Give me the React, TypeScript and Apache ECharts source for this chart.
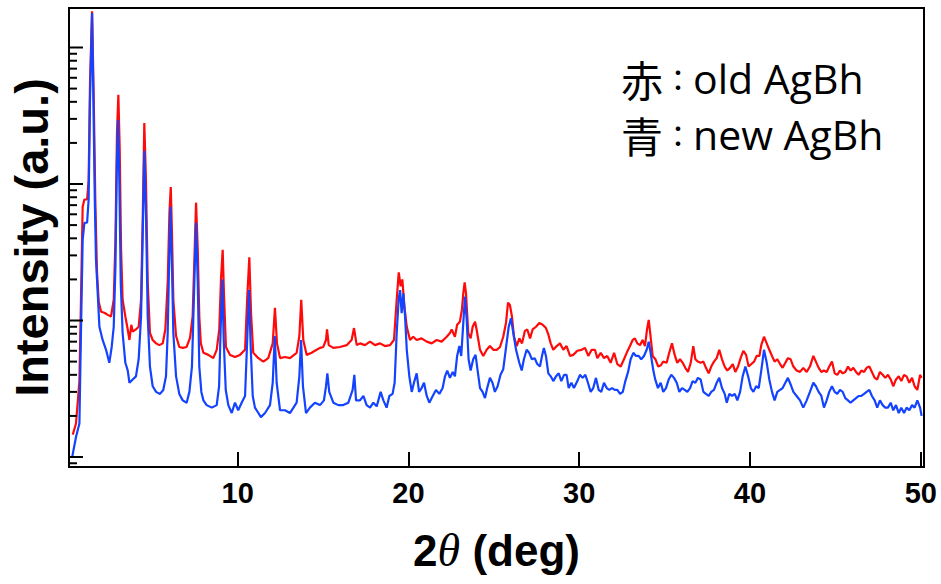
import { useEffect, useRef } from "react";
import * as echarts from "echarts";

// 2θ (deg), intensity (counts) for the old silver behenate standard
const oldAgBh: [number, number][] = [
  [0.34, 14.6], [0.53, 17.6], [0.73, 36], [0.82, 140], [0.92, 680], [1.02, 770], [1.18, 770], [1.27, 1070],
  [1.35, 5500], [1.47, 18400], [1.57, 4150], [1.66, 770], [1.76, 225], [1.86, 137], [2.0, 116], [2.19, 114],
  [2.39, 110], [2.58, 107], [2.74, 142], [2.84, 390], [2.93, 2370], [3.01, 4500], [3.09, 1800], [3.17, 330],
  [3.26, 142], [3.42, 107], [3.56, 86], [3.66, 72], [3.77, 93], [3.85, 83], [4.04, 86], [4.2, 90], [4.34, 142],
  [4.44, 580], [4.53, 2800], [4.63, 1020], [4.73, 190], [4.86, 81], [5.02, 72], [5.22, 68], [5.41, 66],
  [5.61, 68], [5.76, 86], [5.9, 190], [6.0, 610], [6.08, 950], [6.15, 440], [6.23, 142], [6.39, 77], [6.58, 64],
  [6.78, 63], [7.01, 64], [7.21, 75], [7.36, 107], [7.48, 330], [7.56, 730], [7.66, 330], [7.75, 107],
  [7.84, 68], [7.99, 58], [8.28, 56], [8.57, 53], [8.77, 61], [8.92, 86], [9.02, 200], [9.12, 330], [9.2, 150],
  [9.31, 64], [9.55, 56], [9.84, 54], [10.13, 56], [10.43, 61], [10.56, 150], [10.68, 290], [10.78, 113],
  [10.91, 58], [11.21, 53], [11.5, 50], [11.79, 53], [12.05, 68], [12.18, 124], [12.3, 68], [12.48, 53],
  [12.77, 54], [13.06, 53], [13.45, 58], [13.61, 77], [13.72, 142], [13.84, 72], [14.04, 56], [14.33, 58],
  [14.62, 61], [14.82, 63], [15.01, 64], [15.17, 72], [15.23, 86], [15.33, 66], [15.6, 63], [15.99, 64],
  [16.38, 66], [16.67, 72], [16.81, 88], [16.97, 66], [17.16, 68], [17.45, 66], [17.75, 70], [18.04, 66],
  [18.33, 68], [18.62, 65], [18.92, 66], [19.15, 72], [19.31, 142], [19.43, 225], [19.54, 178], [19.64, 200],
  [19.76, 127], [19.9, 90], [20.09, 72], [20.28, 76], [20.48, 72], [20.77, 74], [21.07, 70], [21.36, 68],
  [21.65, 72], [21.94, 70], [22.24, 76], [22.43, 81], [22.53, 86], [22.72, 76], [22.85, 93], [23.01, 98],
  [23.13, 120], [23.21, 158], [23.29, 190], [23.37, 158], [23.5, 81], [23.64, 74], [23.76, 90], [23.9, 98],
  [23.99, 86], [24.19, 61], [24.38, 55], [24.58, 61], [24.77, 65], [24.97, 61], [25.17, 61], [25.36, 64],
  [25.55, 76], [25.71, 96], [25.83, 135], [25.94, 130], [26.06, 107], [26.18, 76], [26.34, 65], [26.49, 74],
  [26.65, 68], [26.82, 84], [26.96, 86], [27.12, 74], [27.27, 86], [27.47, 90], [27.66, 96], [27.86, 93],
  [28.05, 88], [28.19, 79], [28.33, 68], [28.48, 61], [28.68, 65], [28.87, 68], [29.07, 61], [29.26, 65],
  [29.46, 55], [29.65, 56], [29.89, 60], [30.14, 61], [30.34, 63], [30.53, 55], [30.73, 61], [30.92, 61],
  [31.06, 53], [31.26, 58], [31.45, 53], [31.64, 55], [31.84, 49], [32.04, 58], [32.23, 48], [32.43, 46],
  [32.62, 52], [32.78, 58], [32.97, 65], [33.13, 72], [33.26, 74], [33.4, 68], [33.56, 66], [33.71, 72],
  [33.85, 65], [33.97, 86], [34.07, 101], [34.18, 76], [34.3, 55], [34.46, 52], [34.63, 46], [34.78, 47],
  [34.92, 50], [35.12, 49], [35.27, 58], [35.43, 68], [35.59, 56], [35.74, 49], [35.9, 52], [36.06, 49],
  [36.21, 45], [36.37, 42], [36.53, 49], [36.68, 65], [36.8, 52], [36.95, 50], [37.11, 49], [37.27, 50],
  [37.42, 45], [37.58, 41], [37.73, 46], [37.89, 50], [38.05, 53], [38.2, 61], [38.36, 52], [38.52, 46],
  [38.67, 43], [38.83, 45], [38.99, 48], [39.14, 42], [39.3, 46], [39.45, 53], [39.61, 60], [39.77, 56],
  [39.92, 46], [40.08, 48], [40.24, 50], [40.39, 55], [40.55, 55], [40.66, 66], [40.82, 76], [40.98, 68],
  [41.13, 61], [41.29, 55], [41.44, 50], [41.6, 52], [41.76, 48], [41.91, 45], [42.07, 49], [42.22, 53],
  [42.38, 52], [42.54, 46], [42.73, 43], [42.93, 42], [43.12, 45], [43.32, 42], [43.51, 46], [43.71, 55],
  [43.86, 50], [44.02, 45], [44.18, 42], [44.33, 43], [44.49, 42], [44.64, 46], [44.8, 50], [44.96, 41],
  [45.11, 40], [45.27, 43], [45.43, 41], [45.58, 42], [45.74, 46], [45.89, 43], [46.05, 45], [46.21, 42],
  [46.36, 40], [46.52, 43], [46.68, 42], [46.83, 45], [46.99, 46], [47.14, 42], [47.3, 38], [47.45, 37],
  [47.61, 42], [47.77, 40], [47.92, 38], [48.08, 40], [48.24, 37], [48.39, 33], [48.55, 37], [48.71, 39],
  [48.86, 36], [49.02, 40], [49.17, 39], [49.33, 35], [49.49, 38], [49.64, 33], [49.8, 31], [49.96, 40],
  [50.05, 38],
];

// 2θ (deg), intensity (counts) for the new silver behenate standard
const newAgBh: [number, number][] = [
  [0.3, 9.9], [0.53, 14], [0.73, 17.6], [0.82, 81], [0.92, 390], [1.02, 520], [1.18, 520], [1.27, 770],
  [1.35, 4150], [1.47, 17900], [1.55, 4150], [1.63, 770], [1.7, 280], [1.8, 160], [1.9, 90], [2.09, 72],
  [2.29, 61], [2.48, 49], [2.62, 64], [2.74, 90], [2.84, 250], [2.92, 1350], [2.99, 2950], [3.07, 1020],
  [3.15, 190], [3.26, 81], [3.42, 49], [3.56, 43], [3.66, 35], [3.85, 37], [4.04, 39], [4.2, 52], [4.34, 107],
  [4.44, 440], [4.53, 1750], [4.63, 580], [4.73, 107], [4.86, 46], [5.02, 33], [5.22, 30], [5.45, 29],
  [5.64, 31], [5.8, 39], [5.9, 81], [6.0, 330], [6.06, 680], [6.15, 250], [6.23, 81], [6.39, 39], [6.58, 29],
  [6.78, 26], [7.01, 25], [7.17, 30], [7.32, 46], [7.46, 190], [7.56, 520], [7.66, 190], [7.75, 46],
  [7.87, 30], [7.99, 26], [8.18, 24], [8.48, 23], [8.77, 24], [8.91, 33], [9.0, 86], [9.1, 200], [9.18, 72],
  [9.3, 31], [9.45, 24], [9.65, 21], [9.84, 25], [10.03, 22], [10.23, 25], [10.43, 28], [10.54, 64],
  [10.66, 167], [10.76, 64], [10.88, 28], [11.01, 23], [11.21, 21], [11.36, 19.6], [11.6, 21], [11.89, 24],
  [12.05, 35], [12.17, 77], [12.28, 35], [12.48, 22], [12.77, 22], [13.06, 21], [13.45, 25], [13.61, 39],
  [13.71, 72], [13.82, 33], [14.0, 21], [14.23, 23], [14.52, 25], [14.82, 24], [15.05, 26], [15.17, 33],
  [15.25, 41], [15.36, 30], [15.6, 25], [15.89, 24], [16.18, 24], [16.48, 25], [16.73, 31], [16.83, 40],
  [16.93, 26], [17.16, 26], [17.36, 28], [17.55, 24], [17.75, 23], [17.94, 25], [18.14, 23.5], [18.37, 30],
  [18.53, 26], [18.72, 23], [18.88, 28], [19.07, 29], [19.19, 35], [19.31, 81], [19.43, 146], [19.51, 167],
  [19.6, 113], [19.7, 158], [19.8, 107], [19.9, 61], [20.05, 39], [20.19, 30], [20.32, 35], [20.48, 41],
  [20.62, 30], [20.77, 32], [20.91, 35], [21.07, 28], [21.22, 25], [21.42, 28], [21.61, 31], [21.81, 29],
  [22.0, 32], [22.14, 39], [22.27, 43], [22.43, 38], [22.59, 42], [22.72, 39], [22.85, 55], [22.98, 65],
  [23.09, 55], [23.21, 96], [23.31, 150], [23.41, 101], [23.52, 52], [23.64, 43], [23.79, 52], [23.93, 56],
  [24.05, 43], [24.19, 32], [24.34, 30], [24.48, 27], [24.61, 32], [24.77, 38], [24.92, 35], [25.06, 30],
  [25.22, 33], [25.39, 40], [25.55, 44], [25.71, 63], [25.87, 90], [26.0, 104], [26.14, 81], [26.3, 61],
  [26.49, 49], [26.63, 43], [26.76, 52], [26.92, 61], [27.07, 58], [27.23, 52], [27.39, 53], [27.54, 48],
  [27.7, 46], [27.82, 55], [27.93, 63], [28.05, 55], [28.19, 41], [28.33, 39], [28.48, 36], [28.64, 39],
  [28.8, 41], [28.95, 36], [29.11, 40], [29.26, 40], [29.38, 32], [29.54, 35], [29.69, 32], [29.89, 36],
  [30.04, 40], [30.2, 38], [30.36, 40], [30.51, 35], [30.67, 30], [30.82, 32], [30.98, 38], [31.14, 31],
  [31.29, 30], [31.45, 35], [31.61, 32], [31.76, 31], [31.92, 32], [32.08, 31], [32.23, 31], [32.39, 29],
  [32.55, 30], [32.7, 36], [32.86, 42], [33.01, 52], [33.17, 58], [33.32, 55], [33.48, 55], [33.63, 52],
  [33.79, 55], [33.95, 61], [34.07, 70], [34.18, 58], [34.34, 43], [34.45, 37], [34.61, 32], [34.77, 35],
  [34.92, 30], [35.08, 32], [35.24, 37], [35.39, 40], [35.55, 38], [35.71, 35], [35.86, 30], [36.02, 32],
  [36.18, 31], [36.33, 30], [36.49, 32], [36.64, 36], [36.8, 35], [36.95, 38], [37.11, 37], [37.27, 30],
  [37.42, 29], [37.58, 28], [37.73, 30], [37.89, 31], [38.05, 35], [38.2, 38], [38.36, 32], [38.52, 29],
  [38.64, 25], [38.79, 29], [38.95, 28], [39.11, 29], [39.26, 26], [39.42, 30], [39.57, 39], [39.73, 46],
  [39.89, 39], [40.05, 32], [40.2, 30], [40.36, 33], [40.51, 32], [40.66, 43], [40.82, 61], [40.98, 49],
  [41.13, 37], [41.29, 30], [41.44, 26], [41.6, 30], [41.76, 31], [41.91, 32], [42.07, 35], [42.22, 38],
  [42.38, 34], [42.54, 30], [42.73, 28], [42.93, 26], [43.12, 23], [43.32, 26], [43.51, 30], [43.71, 35],
  [43.86, 33], [44.02, 30], [44.18, 28], [44.33, 23], [44.49, 26], [44.64, 30], [44.8, 33], [44.96, 30],
  [45.11, 29], [45.27, 31], [45.43, 30], [45.58, 27], [45.74, 26], [45.89, 25], [46.05, 26], [46.21, 27],
  [46.36, 28], [46.52, 28], [46.68, 29], [46.83, 30], [46.99, 31], [47.14, 28], [47.3, 26], [47.45, 23],
  [47.61, 26], [47.77, 24], [47.92, 23], [48.08, 23], [48.24, 25], [48.39, 22], [48.55, 24], [48.71, 21],
  [48.86, 23], [49.02, 21], [49.17, 23], [49.33, 22], [49.49, 24], [49.64, 23], [49.8, 26], [49.96, 23],
  [50.05, 20],
];

// axis ranges and tick marks
const X_MIN = 0.12;
const X_MAX = 50.19;
const Y_MIN = 8.45;
const Y_MAX = 19470;
const xTickValues = [10, 20, 30, 40, 50];
const yMajorTicks = [10, 100, 1000, 10000];
const yMinorTicks = [
  9,
  20, 30, 40, 50, 60, 70, 80, 90,
  200, 300, 400, 500, 600, 700, 800, 900,
  2000, 3000, 4000, 5000, 6000, 7000, 8000, 9000,
];

// colour key written in the corner
const keyMarks = ["赤", "青"];
const keyNames = ["old AgBh", "new AgBh"];

const RED = "#ff0a0a";
const BLUE = "#1443ff";
const BOLD_FONT = "'Liberation Sans', Arial, sans-serif";
const NARROW_FONT = "'Liberation Sans Narrow', 'Arial Narrow', 'Liberation Sans', sans-serif";

export default function App() {
  const ref = useRef<HTMLDivElement>(null);

  useEffect(() => {
    if (!ref.current) return;
    const chart = echarts.init(ref.current, undefined, { renderer: "svg" });

    const tickData = [
      ...yMajorTicks.map((v) => [X_MIN, v, 1]),
      ...yMinorTicks.map((v) => [X_MIN, v, 0]),
    ];

    chart.setOption({
      animation: false,
      backgroundColor: "#ffffff",
      grid: {
        left: 69,
        right: 17,
        top: 8,
        bottom: 117,
        show: true,
        borderColor: "#000",
        borderWidth: 2,
        backgroundColor: "transparent",
        outerBoundsMode: "none",
      },
      xAxis: {
        type: "value",
        min: X_MIN,
        max: X_MAX,
        axisLine: { show: true, onZero: false, lineStyle: { color: "#000", width: 2 } },
        axisTick: {
          show: true,
          inside: true,
          length: 15,
          customValues: xTickValues,
          lineStyle: { color: "#000", width: 2 },
        },
        axisLabel: {
          customValues: xTickValues,
          color: "#000",
          fontFamily: NARROW_FONT,
          fontWeight: "bold",
          fontSize: 29,
          margin: 11,
        },
        splitLine: { show: false },
        name: "{n|2}{t|θ}{n| (deg)}",
        nameLocation: "middle",
        nameGap: 60,
        nameTextStyle: {
          rich: {
            n: { fontFamily: BOLD_FONT, fontWeight: "bold", fontSize: 44, color: "#000" },
            t: { fontFamily: "'Liberation Serif', 'Times New Roman', serif", fontStyle: "italic", fontSize: 46, color: "#000" },
          },
        },
      },
      yAxis: {
        type: "log",
        logBase: 10,
        min: Y_MIN,
        max: Y_MAX,
        axisLine: { show: true, onZero: false, lineStyle: { color: "#000", width: 2 } },
        axisTick: { show: false },
        minorTick: { show: false },
        axisLabel: { show: false },
        splitLine: { show: false },
        name: "Intensity (a.u.)",
        nameLocation: "middle",
        nameRotate: 90,
        nameGap: 14,
        nameTextStyle: { fontFamily: BOLD_FONT, fontWeight: "bold", fontSize: 47, color: "#000" },
      },
      series: [
        {
          name: "old AgBh",
          type: "line",
          data: oldAgBh,
          showSymbol: false,
          lineStyle: { color: RED, width: 2.2 },
          itemStyle: { color: RED },
          z: 2,
        },
        {
          name: "new AgBh",
          type: "line",
          data: newAgBh,
          showSymbol: false,
          lineStyle: { color: BLUE, width: 2.2 },
          itemStyle: { color: BLUE },
          z: 3,
        },
        {
          // log-axis tick marks at every 1–9 × 10^n, pointing into the plot
          type: "custom",
          data: tickData,
          encode: { x: 0, y: 1 },
          silent: true,
          z: 5,
          renderItem: (_params: any, api: any) => {
            const p = api.coord([api.value(0), api.value(1)]);
            const len = api.value(2) ? 14 : 8;
            return {
              type: "line",
              shape: { x1: p[0], y1: p[1], x2: p[0] + len, y2: p[1] },
              style: { stroke: "#000", lineWidth: 2 },
            };
          },
        },
      ],
      graphic: keyMarks.map((mark, i) => ({
        type: "text",
        left: 621,
        top: 57 + i * 56,
        style: {
          text: `{k|${mark}}{c|：}{t|${keyNames[i]}}`,
          rich: {
            k: { fontFamily: "'Noto Sans CJK JP', sans-serif", fontSize: 42, lineHeight: 46, fill: "#000" },
            c: { fontFamily: "'Noto Sans CJK JP', sans-serif", fontSize: 30, lineHeight: 46, fill: "#000" },
            t: { fontFamily: "'Open Sans', sans-serif", fontSize: 41, lineHeight: 46, fill: "#000" },
          },
        },
      })),
    });

    return () => chart.dispose();
  }, []);

  return (
    <div
      ref={ref}
      style={{ position: "fixed", left: 0, top: 0, width: 941, height: 584, background: "#fff" }}
    />
  );
}
